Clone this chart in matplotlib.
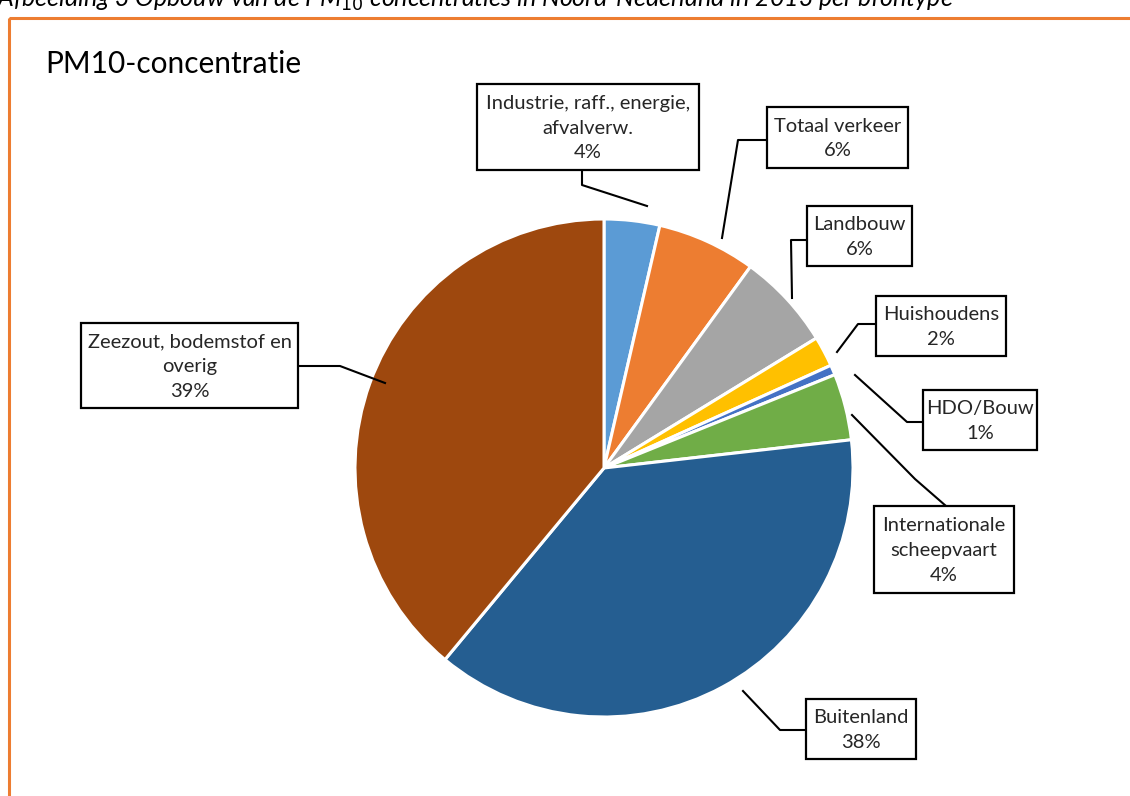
import matplotlib
matplotlib.use("Agg")
import matplotlib.pyplot as plt
from matplotlib.patches import Rectangle

plt.rcParams["font.family"] = ["Lato", "DejaVu Sans"]

# data, clockwise from 12 o'clock
categories = [
    "Industrie, raff., energie,\nafvalverw.",
    "Totaal verkeer",
    "Landbouw",
    "Huishoudens",
    "HDO/Bouw",
    "Internationale\nscheepvaart",
    "Buitenland",
    "Zeezout, bodemstof en\noverig",
]
values = [3.6, 6.4, 6.25, 1.97, 0.65, 4.3, 37.8, 38.94]
colors = ["#5B9BD5", "#ED7D31", "#A5A5A5", "#FFC000", "#4472C4", "#70AD47", "#255E91", "#9E480E"]

title = "PM10-concentratie"
caption = "Afbeelding 3 Opbouw van de PM$_{10}$ concentraties in Noord-Nederland in 2013 per brontype"

# layout in picture pixels (x right, y down)
W, H = 1130, 796
pie_center = (604, 468)
pie_radius = 249

# label boxes: x0, y0, x1, y1
boxes = [
    (477, 84, 699, 170),
    (767, 107, 908, 168),
    (807, 206, 912, 266),
    (876, 296, 1006, 356),
    (923, 390, 1037, 450),
    (874, 506, 1014, 593),
    (806, 699, 916, 759),
    (81, 323, 298, 408),
]
# leader lines from box to slice
leaders = [
    [(582, 170), (582, 185), (647, 206)],
    [(767, 140), (738, 140), (722, 238)],
    [(807, 240), (791, 240), (792, 298)],
    [(876, 324), (858, 324), (837, 352)],
    [(923, 422), (907, 422), (855, 375)],
    [(946, 506), (915, 479), (852, 415)],
    [(806, 730), (780, 730), (743, 691)],
    [(298, 366), (340, 366), (385, 383)],
]

fig = plt.figure(figsize=(11.3, 7.96), dpi=100)
fig.patch.set_facecolor("white")
ax = fig.add_axes([0, 0, 1, 1])

ax.pie(
    values,
    colors=colors,
    startangle=-90,
    counterclock=True,
    center=pie_center,
    radius=pie_radius,
    wedgeprops=dict(edgecolor="white", linewidth=2.2),
)
ax.set_aspect("equal")
ax.set_xlim(0, W)
ax.set_ylim(H, 0)
ax.axis("off")

# chart area border (cut off right and bottom)
ax.add_patch(Rectangle((9, 18), 1300, 1000, fill=False, edgecolor="#ED7D31", lw=2.2, zorder=0))

# caption above the chart, cut off at the top edge like in the source
ax.text(-3, 7, caption, fontsize=18, style="italic", ha="left", va="baseline", color="black")

ax.text(45, 64, title, fontsize=21.5, ha="left", va="center", color="black")

total = sum(values)
for cat, val, box, pts in zip(categories, values, boxes, leaders):
    x0, y0, x1, y1 = box
    ax.add_patch(Rectangle((x0, y0), x1 - x0, y1 - y0, facecolor="white",
                           edgecolor="black", lw=1.6, zorder=3))
    label = f"{cat}\n{val / total * 100:.0f}%"
    ax.text((x0 + x1) / 2, (y0 + y1) / 2 + 1, label, fontsize=14.5, ha="center", va="center",
            linespacing=1.55, color="#262626", zorder=4)
    xs = [p[0] for p in pts]
    ys = [p[1] for p in pts]
    ax.plot(xs, ys, color="black", lw=1.5, zorder=2)

fig.savefig("out.png", dpi=100, facecolor="white")
